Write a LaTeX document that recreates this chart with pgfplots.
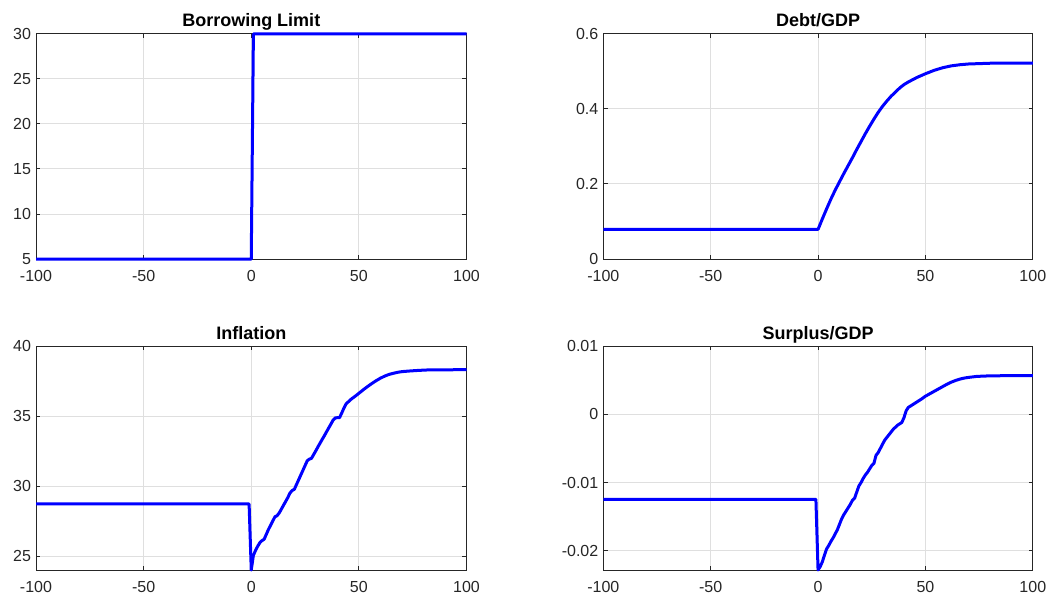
\documentclass[border=0pt]{standalone}
\usepackage{pgfplots}
\pgfplotsset{compat=1.18}
\usepackage{fontspec}
\setmainfont{Liberation Sans}
\definecolor{axgray}{HTML}{262626}
\definecolor{gridgray}{HTML}{DFDFDF}
\pgfplotsset{
 every axis title/.style={at={(0.5,1)}, anchor=base, yshift=7pt, font=\bfseries\fontsize{18}{21}\selectfont},
 mat/.style={
  scale only axis, anchor=south west,
  xmin=-100, xmax=100,
  xtick={-100,-50,0,50,100},
  xticklabels={-100,-50,0,50,100},
  scaled y ticks=false, scaled x ticks=false,
  grid=major,
  major grid style={draw=gridgray, line width=1pt},
  axis line style={draw=axgray, line width=1pt},
  tick style={draw=axgray, line width=1pt},
  tick align=inside,
  major tick length=4.3pt,
  xtick pos=both, ytick pos=both,
  xticklabel pos=left, yticklabel pos=left,
  tick label style={font=\fontsize{16}{19}\selectfont, text=axgray},
  xticklabel style={yshift=-7.4pt},
  yticklabel style={xshift=-1.5pt},
  clip=false,
 },
 cur/.style={blue, line width=3pt, line join=round, no markers},
}
\begin{document}
\begin{tikzpicture}
\path[use as bounding box] (0,0) rectangle (1051pt,598pt);
% Borrowing Limit
\begin{axis}[mat, at={(36pt,339pt)}, width=430.5pt, height=225pt,
  title={Borrowing Limit},
  ymin=5, ymax=30, ytick={5,10,15,20,25,30}, yticklabels={5,10,15,20,25,30}]
\addplot[cur] coordinates {(-100,5) (0,5) (1,30) (100,30)};
\end{axis}
% Debt/GDP
\begin{axis}[mat, at={(603.3pt,339pt)}, width=429.5pt, height=225pt,
  title={Debt/GDP},
  ymin=0, ymax=0.6, ytick={0,0.2,0.4,0.6}, yticklabels={0,0.2,0.4,0.6}]
\addplot[cur] coordinates {
(-100,0.079) (0,0.079) (2,0.107) (4,0.134) (6,0.160) (8,0.184) (10,0.206)
(12,0.228) (14,0.249) (16,0.270) (18,0.292) (20,0.313) (22,0.334) (24,0.354)
(26,0.373) (28,0.391) (30,0.407) (32,0.421) (34,0.434) (36,0.445) (38,0.456)
(40,0.465) (42,0.472) (44,0.478) (46,0.484) (48,0.489) (50,0.494) (54,0.503)
(58,0.510) (62,0.515) (66,0.518) (70,0.520) (80,0.522) (100,0.522)};
\end{axis}
% Inflation
\begin{axis}[mat, at={(36pt,28pt)}, width=430.5pt, height=224pt,
  title={Inflation},
  ymin=24, ymax=40, ytick={25,30,35,40}, yticklabels={25,30,35,40}]
\addplot[cur] coordinates {
(-100,28.72) (-1,28.72) (0,24.0) (1,25.05) (2,25.4) (3,25.7) (4,25.95) (5,26.1)
(6,26.2) (7,26.55) (8,26.9) (9,27.2) (10,27.5) (11,27.8) (12,27.88) (13,28.08)
(14,28.35) (15,28.63) (16,28.9) (17,29.18) (18,29.5) (19,29.68) (20,29.76)
(21,30.1) (22,30.44) (23,30.78) (24,31.12) (25,31.46) (26,31.8) (27,31.92)
(28,31.98) (29,32.25) (30,32.52) (31,32.8) (32,33.07) (33,33.34) (34,33.6)
(35,33.88) (36,34.15) (37,34.42) (38,34.7) (39,34.86) (40,34.88) (41,34.88)
(42,35.2) (43,35.55) (44,35.85) (45,36.0) (46,36.15) (47,36.27) (48,36.38)
(50,36.62) (52,36.87) (54,37.1) (56,37.32) (58,37.52) (60,37.7) (62,37.85)
(64,37.97) (66,38.05) (68,38.12) (70,38.17) (74,38.22) (78,38.26) (82,38.29)
(90,38.3) (100,38.31)};
\end{axis}
% Surplus/GDP
\begin{axis}[mat, at={(603.3pt,28pt)}, width=429.5pt, height=224pt,
  title={Surplus/GDP},
  ymin=-0.0228, ymax=0.01, ytick={-0.02,-0.01,0,0.01}, yticklabels={-0.02,-0.01,0,0.01}]
\addplot[cur] coordinates {
(-100,-0.01245) (-1,-0.01245) (0,-0.0228) (1,-0.0223) (2,-0.0216) (3,-0.0206)
(4,-0.0197) (5,-0.0192) (6,-0.0186) (7,-0.0181) (8,-0.0175) (9,-0.0169)
(10,-0.0161) (11,-0.0153) (12,-0.0147) (13,-0.0142) (14,-0.0137) (15,-0.0132)
(16,-0.0126) (17,-0.0123) (18,-0.0114) (19,-0.0105) (20,-0.0100) (21,-0.0094)
(22,-0.0089) (23,-0.0085) (24,-0.0080) (25,-0.0075) (26,-0.0072) (27,-0.0060)
(28,-0.0056) (29,-0.0050) (30,-0.0044) (31,-0.0038) (32,-0.0034) (33,-0.0030)
(34,-0.0026) (35,-0.0022) (36,-0.0019) (37,-0.0016) (38,-0.0014) (39,-0.0012)
(40,-0.0005) (41,0.0005) (42,0.0010) (43,0.0012) (44,0.0014) (46,0.0018)
(48,0.0022) (50,0.00265) (52,0.0030) (54,0.00335) (56,0.0037) (58,0.00405)
(60,0.0044) (62,0.0047) (64,0.00495) (66,0.00515) (68,0.0053) (70,0.0054)
(74,0.00555) (80,0.00563) (90,0.00566) (100,0.00567)};
\end{axis}
\end{tikzpicture}
\end{document}
